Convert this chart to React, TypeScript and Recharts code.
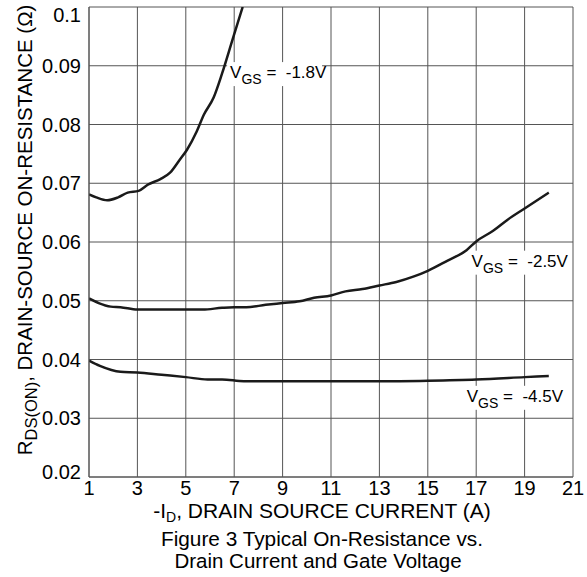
import React from "react";
import {
  LineChart,
  Line,
  XAxis,
  YAxis,
  CartesianGrid,
  ReferenceDot,
  Label,
} from "recharts";

const FONT = '"Liberation Sans", Arial, Helvetica, sans-serif';

// -I_D (A) / R_DS(ON) (ohm)
const vgs18X = [1, 1.3, 1.75, 2.2, 2.6, 3.05, 3.45, 3.95, 4.35, 4.75, 5.05, 5.45, 5.75, 6.15, 6.5, 6.95, 7.35];
const vgs18Y = [0.0681, 0.0676, 0.0671, 0.0676, 0.0684, 0.0687, 0.0698, 0.0707, 0.0718, 0.074, 0.0757, 0.0788, 0.0817, 0.0846, 0.0887, 0.0947, 0.1];

const vgs25X = [1, 1.4, 1.9, 2.3, 3, 4, 5, 5.7, 6.5, 7, 7.5, 8.3, 9, 9.7, 10.3, 11, 11.6, 12.3, 13, 13.7, 14.4, 15, 15.8, 16.6, 17, 17.7, 18.3, 19, 20];
const vgs25Y = [0.0504, 0.0496, 0.049, 0.0489, 0.0485, 0.0485, 0.0485, 0.0485, 0.0488, 0.0489, 0.0489, 0.0493, 0.0496, 0.0499, 0.0505, 0.0509, 0.0516, 0.052, 0.0526, 0.0532, 0.0541, 0.0551, 0.0568, 0.0586, 0.0601, 0.0619, 0.0638, 0.0657, 0.0684];

const vgs45X = [1, 1.45, 2.3, 3, 4, 5, 5.9, 6.5, 7.4, 9, 11, 13, 15, 17, 19, 20];
const vgs45Y = [0.0398, 0.0389, 0.0379, 0.0378, 0.0374, 0.037, 0.0366, 0.0366, 0.0363, 0.0363, 0.0363, 0.0363, 0.0364, 0.0366, 0.037, 0.0372];

const xTicks = [1, 3, 5, 7, 9, 11, 13, 15, 17, 19, 21];
const yTicks = [0.02, 0.03, 0.04, 0.05, 0.06, 0.07, 0.08, 0.09, 0.1];
const yTickLabels = ["0.02", "0.03", "0.04", "0.05", "0.06", "0.07", "0.08", "0.09", "0.1"];

// curve labels: anchor = left end of text baseline
const curveLabels = [
  { x: 6.83, y: 0.0879, value: "-1.8V" },
  { x: 16.81, y: 0.0558, value: "-2.5V" },
  { x: 16.61, y: 0.0328, value: "-4.5V" },
];

const toPoints = (xs: number[], ys: number[]) => xs.map((x, i) => ({ x, r: ys[i] }));

const series = [
  { name: "-1.8V", data: toPoints(vgs18X, vgs18Y) },
  { name: "-2.5V", data: toPoints(vgs25X, vgs25Y) },
  { name: "-4.5V", data: toPoints(vgs45X, vgs45Y) },
];

// first/last y labels sit inside the frame in the original
function YTick(props: any) {
  const { x, y, index } = props;
  let shift = 0;
  if (index === 0) shift = -5;
  if (index === yTickLabels.length - 1) shift = 8;
  return (
    <text
      x={x}
      y={y + shift}
      dy="0.355em"
      textAnchor="end"
      fontFamily={FONT}
      fontSize={20}
      fill="#000"
    >
      {yTickLabels[index]}
    </text>
  );
}

function YTitle(props: any) {
  const vb = props.viewBox || {};
  const cx = vb.x + 3;
  const cy = vb.y + vb.height / 2 - 12;
  return (
    <text
      x={cx}
      y={cy}
      transform={`rotate(-90 ${cx} ${cy})`}
      textAnchor="middle"
      fontFamily={FONT}
      fontSize={20.5}
      fill="#000"
    >
      R
      <tspan fontSize={16.5} dy={5}>DS(ON)</tspan>
      <tspan dy={-5}>, DRAIN-SOURCE ON-RESISTANCE (Ω)</tspan>
    </text>
  );
}

function XTitle(props: any) {
  const vb = props.viewBox || {};
  const cx = vb.x + vb.width / 2 - 9;
  const y0 = vb.y;
  return (
    <g fontFamily={FONT} fill="#000" textAnchor="middle">
      <text x={cx} y={y0 + 41} fontSize={21}>
        -I
        <tspan fontSize={14} dy={4}>D</tspan>
        <tspan dy={-4}>, DRAIN SOURCE CURRENT (A)</tspan>
      </text>
      <text x={cx} y={y0 + 69} fontSize={20.8}>
        Figure 3 Typical On-Resistance vs.
      </text>
      <text x={cx - 4} y={y0 + 91} fontSize={20.5}>
        Drain Current and Gate Voltage
      </text>
    </g>
  );
}

function curveLabel(value: string) {
  return (props: any) => {
    const vb = props.viewBox || {};
    const x = vb.x + (vb.width || 0) / 2;
    const y = vb.y + (vb.height || 0) / 2;
    return (
      <g>
        <rect x={x - 3} y={y - 16} width={95} height={24} fill="#fff" />
        <text x={x} y={y} fontFamily={FONT} fontSize={17} fill="#000">
          V
          <tspan fontSize={14} dy={6}>GS</tspan>
          <tspan dy={-6}>{"\u00a0=\u00a0\u00a0" + value}</tspan>
        </text>
      </g>
    );
  };
}

export default function App() {
  return (
    <div style={{ position: "absolute", left: 0, top: 0, width: 587, height: 577, background: "#fff" }}>
      <LineChart
        width={587}
        height={577}
        margin={{ top: 7, right: 14, left: 29, bottom: 70 }}
      >
        <CartesianGrid stroke="#555" strokeWidth={1} />
        <XAxis
          type="number"
          dataKey="x"
          domain={[1, 21]}
          ticks={xTicks}
          interval={0}
          height={30}
          axisLine={{ stroke: "#555" }}
          tickLine={false}
          tickMargin={-2}
          tick={{ fontSize: 20, fill: "#000", fontFamily: FONT }}
          allowDataOverflow
        >
          <Label content={XTitle} />
        </XAxis>
        <YAxis
          type="number"
          domain={[0.02, 0.1]}
          ticks={yTicks}
          interval={0}
          width={60}
          axisLine={{ stroke: "#555" }}
          tickLine={false}
          tick={YTick}
          allowDataOverflow
        >
          <Label content={YTitle} />
        </YAxis>
        {series.map((s) => (
          <Line
            key={s.name}
            data={s.data}
            dataKey="r"
            type="monotone"
            stroke="#1a1a1a"
            strokeWidth={2.5}
            dot={false}
            activeDot={false}
            isAnimationActive={false}
          />
        ))}
        {curveLabels.map((c) => (
          <ReferenceDot
            key={c.value}
            x={c.x}
            y={c.y}
            r={0}
            fill="none"
            stroke="none"
            label={curveLabel(c.value)}
          />
        ))}
      </LineChart>
    </div>
  );
}
